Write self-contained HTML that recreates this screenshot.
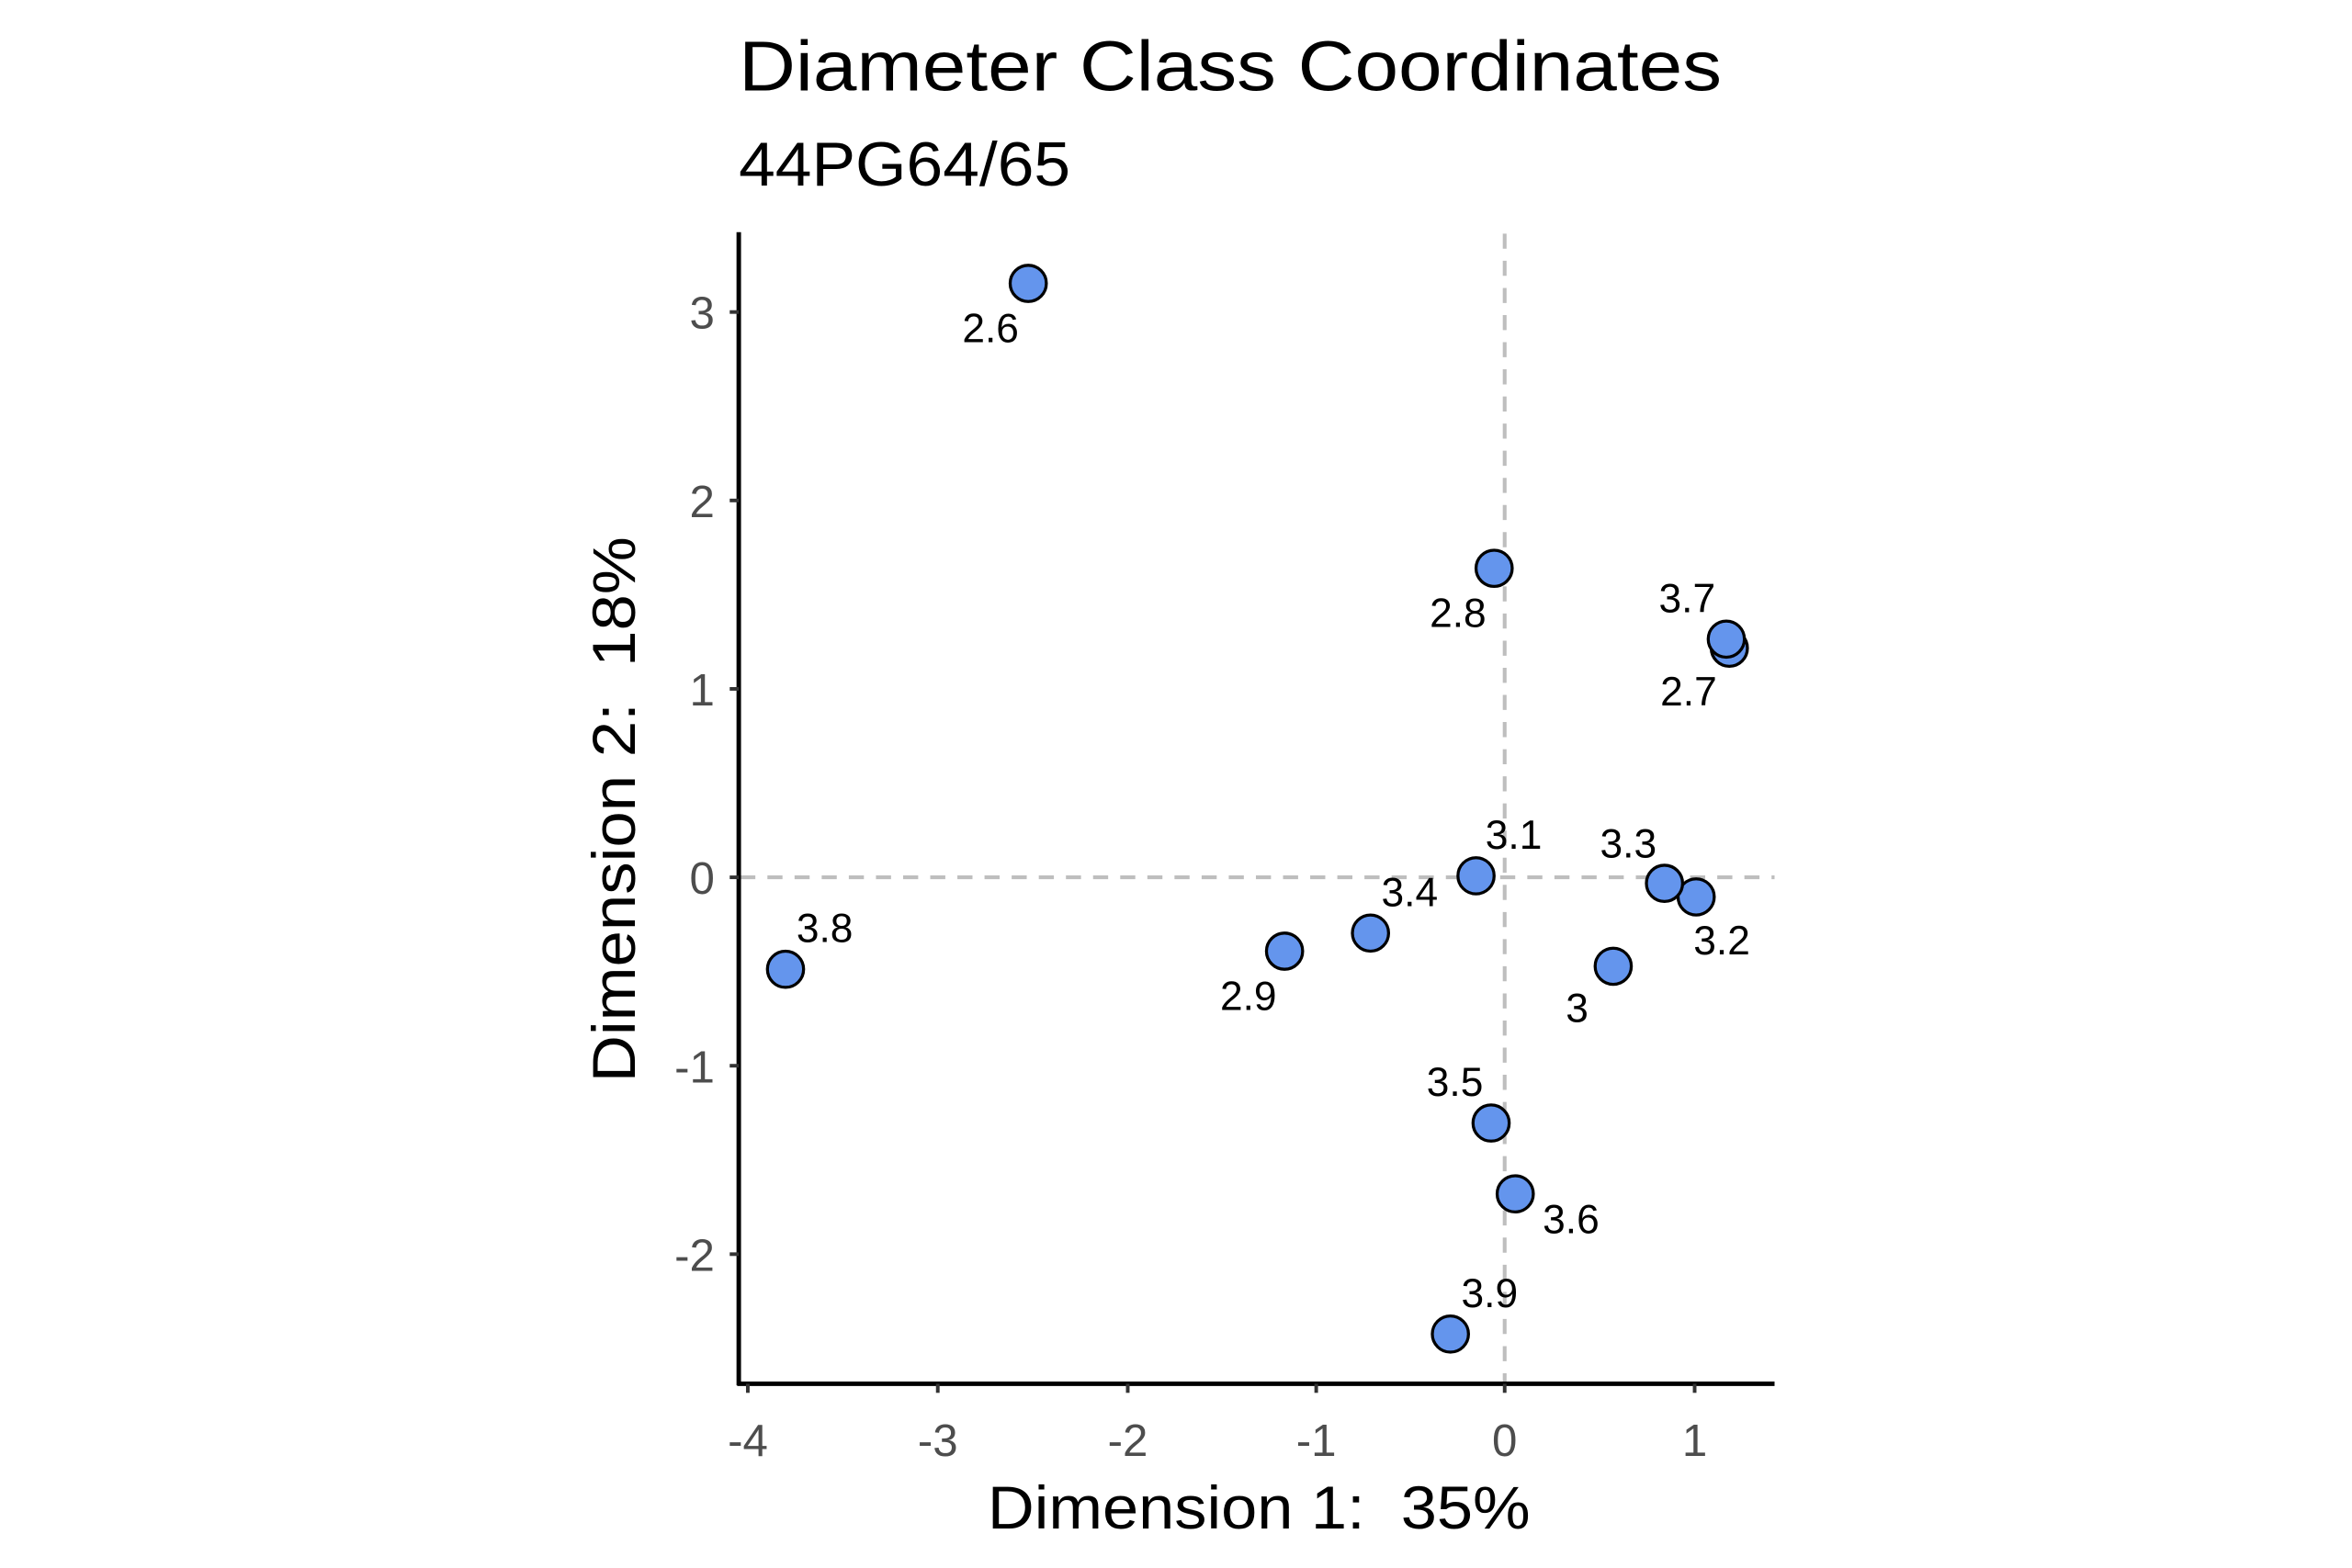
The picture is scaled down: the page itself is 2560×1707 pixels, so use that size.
<!DOCTYPE html>
<html><head><meta charset="utf-8"><style>
html,body{margin:0;padding:0;background:#fff;}
svg{display:block;font-family:"Liberation Sans",Arial,sans-serif;}
</style></head><body>
<svg width="2560" height="1707" viewBox="0 0 1560 1040.2" xmlns="http://www.w3.org/2000/svg">
<rect width="1560" height="1040.2" fill="#fff"/>
<text x="490" y="60" font-size="47" textLength="652" lengthAdjust="spacingAndGlyphs">Diameter Class Coordinates</text>
<text x="490" y="123" font-size="41" textLength="220" lengthAdjust="spacingAndGlyphs">44PG64/65</text>
<g stroke="#bebebe" stroke-width="2.5" stroke-dasharray="10 8">
<line x1="998" y1="155" x2="998" y2="919"/>
<line x1="491" y1="582" x2="1177" y2="582"/>
</g>
<g stroke="#000" stroke-width="3">
<line x1="490" y1="154" x2="490" y2="919"/>
<line x1="489" y1="918" x2="1177" y2="918"/>
</g>
<g stroke="#333" stroke-width="2.4">
<line x1="484" y1="207" x2="490" y2="207"/><line x1="484" y1="332" x2="490" y2="332"/><line x1="484" y1="457" x2="490" y2="457"/><line x1="484" y1="582" x2="490" y2="582"/><line x1="484" y1="707" x2="490" y2="707"/><line x1="484" y1="832" x2="490" y2="832"/>
<line x1="496" y1="918" x2="496" y2="924"/><line x1="622" y1="918" x2="622" y2="924"/><line x1="748" y1="918" x2="748" y2="924"/><line x1="873" y1="918" x2="873" y2="924"/><line x1="998" y1="918" x2="998" y2="924"/><line x1="1124" y1="918" x2="1124" y2="924"/>
</g>
<g font-size="30" fill="#4d4d4d" text-anchor="end">
<text x="474" y="218">3</text><text x="474" y="343">2</text><text x="474" y="468">1</text><text x="474" y="593">0</text><text x="474" y="718">-1</text><text x="474" y="843">-2</text>
</g>
<g font-size="30" fill="#4d4d4d" text-anchor="middle">
<text x="496" y="966">-4</text><text x="622" y="966">-3</text><text x="748" y="966">-2</text><text x="873" y="966">-1</text><text x="998" y="966">0</text><text x="1124" y="966">1</text>
</g>
<text x="835" y="1014" font-size="40" text-anchor="middle" textLength="360" lengthAdjust="spacingAndGlyphs" xml:space="preserve">Dimension 1:  35%</text>
<text transform="translate(421,537) rotate(-90)" font-size="40" text-anchor="middle" textLength="362" lengthAdjust="spacingAndGlyphs" xml:space="preserve">Dimension 2:  18%</text>
<g fill="#6495ed" stroke="#000" stroke-width="2">
<circle cx="682" cy="188" r="12"/>
<circle cx="991" cy="377" r="12"/>
<circle cx="1147" cy="430" r="12"/>
<circle cx="1145" cy="424" r="12"/>
<circle cx="979" cy="581" r="12"/>
<circle cx="1125" cy="595" r="12"/>
<circle cx="1104" cy="586" r="12"/>
<circle cx="909" cy="619" r="12"/>
<circle cx="852" cy="631" r="12"/>
<circle cx="1070" cy="641" r="12"/>
<circle cx="521" cy="643" r="12"/>
<circle cx="989" cy="745" r="12"/>
<circle cx="1005" cy="792" r="12"/>
<circle cx="962" cy="885" r="12"/>
</g>
<g font-size="27" fill="#000" text-anchor="middle">
<text x="657" y="227">2.6</text>
<text x="967" y="416">2.8</text>
<text x="1119" y="406">3.7</text>
<text x="1120" y="468">2.7</text>
<text x="1004" y="563">3.1</text>
<text x="1080" y="569">3.3</text>
<text x="1142" y="633">3.2</text>
<text x="935" y="601">3.4</text>
<text x="828" y="670">2.9</text>
<text x="1046" y="678">3</text>
<text x="547" y="625">3.8</text>
<text x="965" y="727">3.5</text>
<text x="1042" y="818">3.6</text>
<text x="988" y="867">3.9</text>
</g>
</svg>
</body></html>
